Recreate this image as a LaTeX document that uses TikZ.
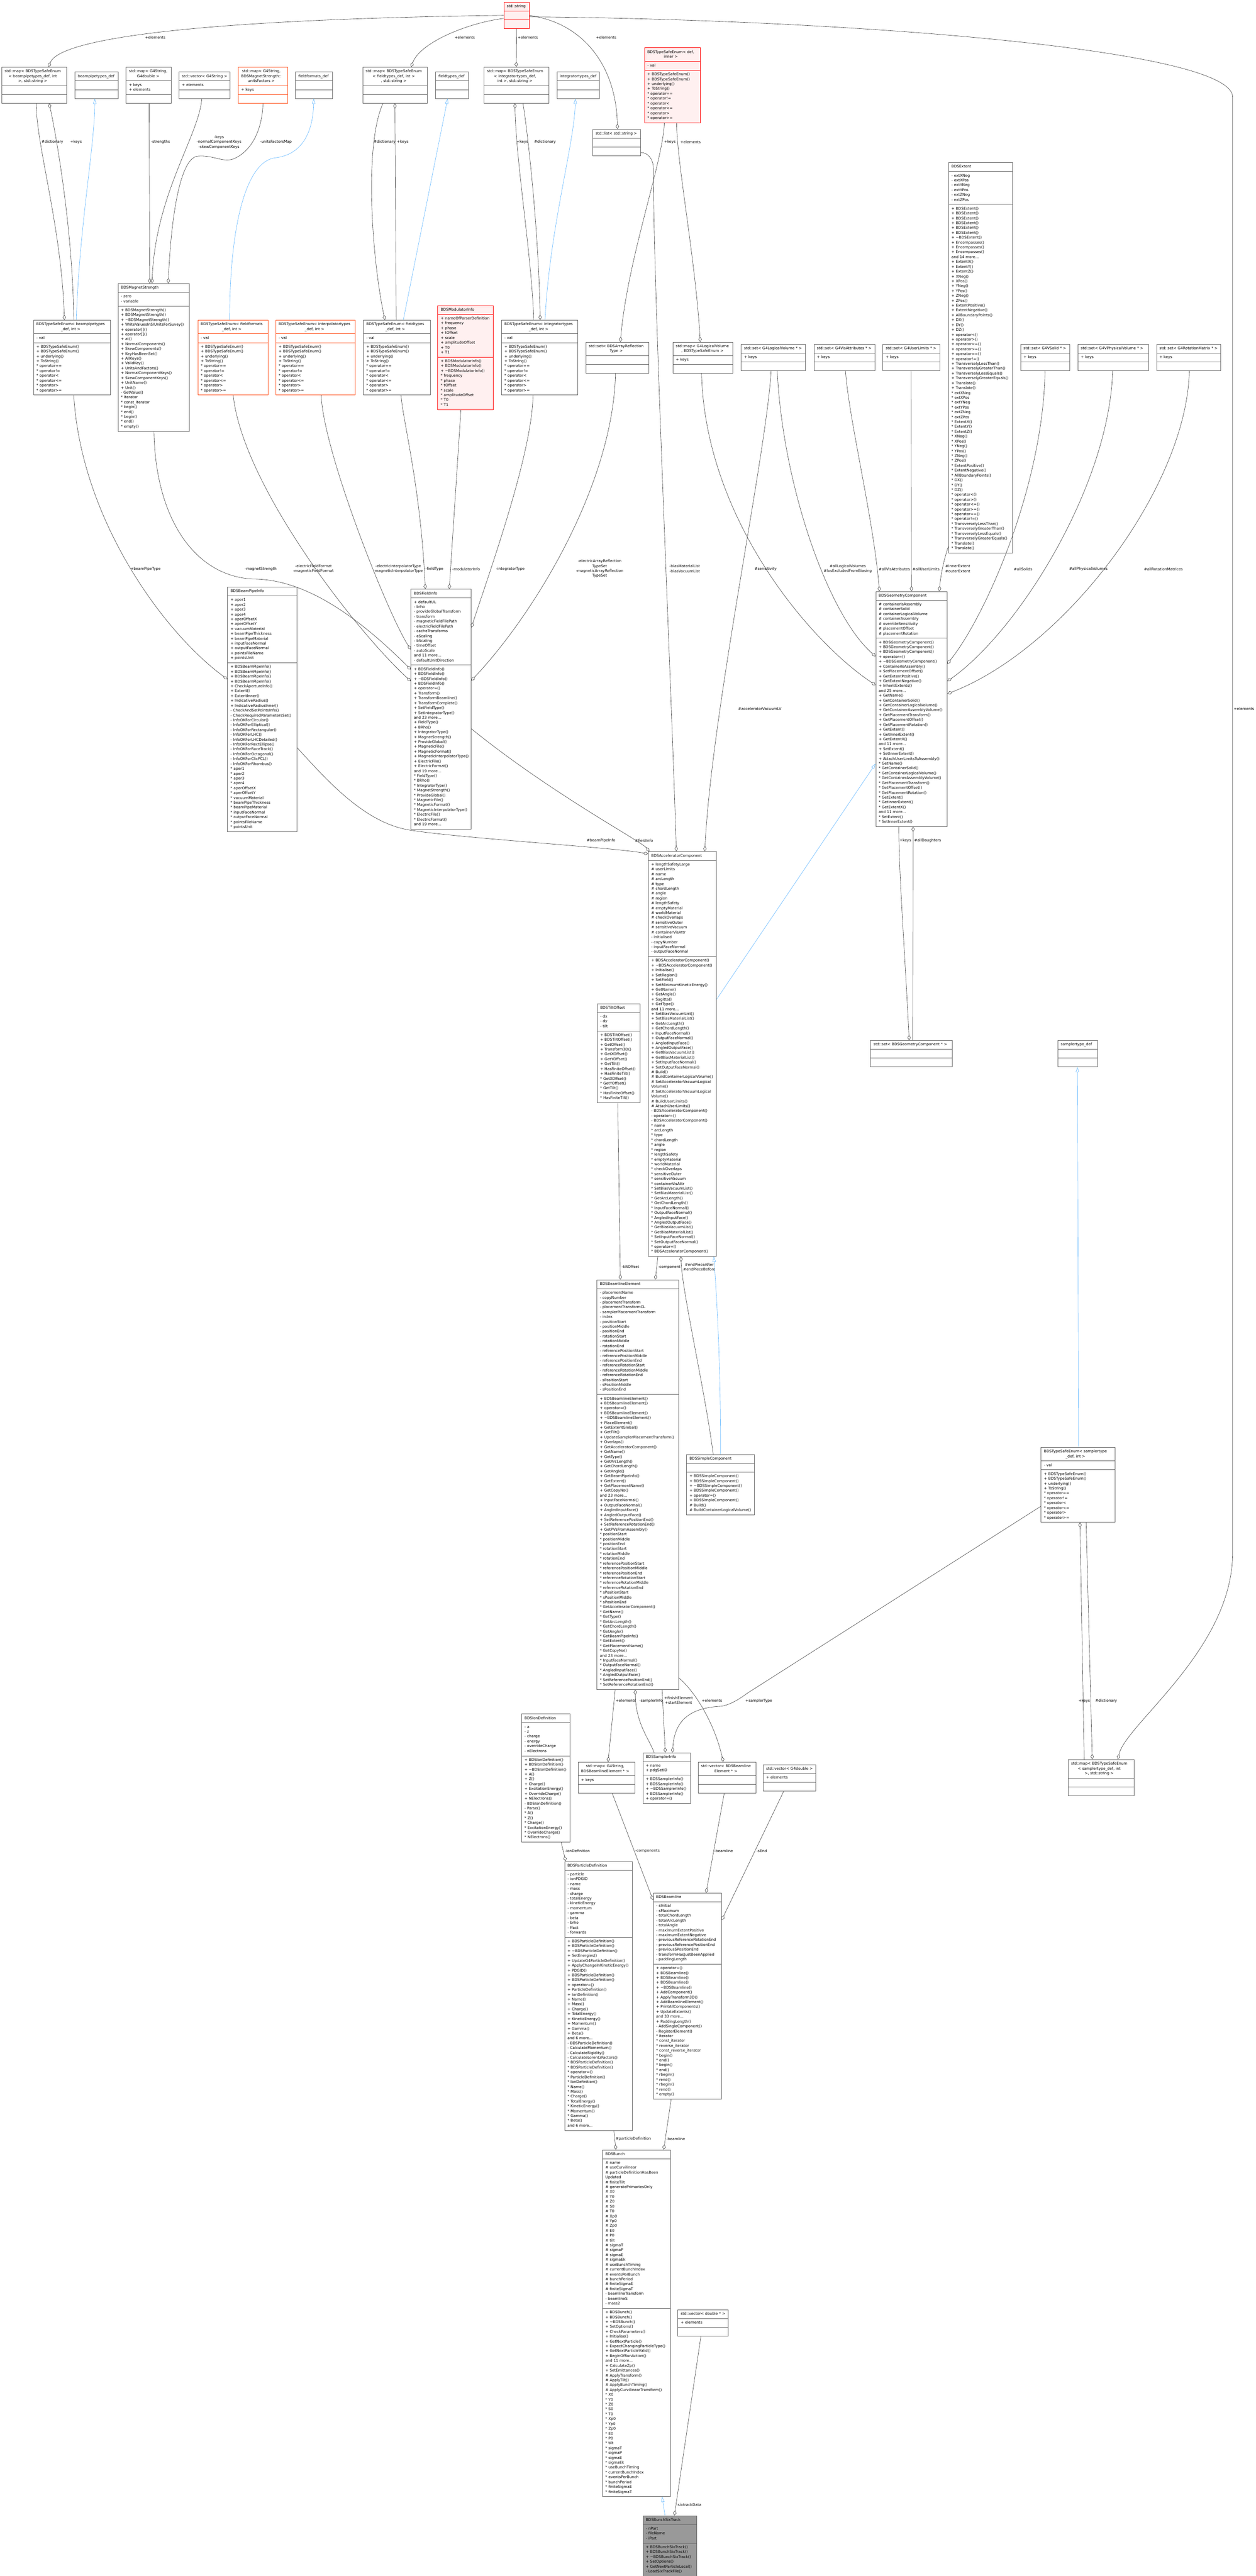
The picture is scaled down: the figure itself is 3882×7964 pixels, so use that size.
\documentclass[tikz,border=0pt]{standalone}
\usepackage{fontspec}
\setmainfont{DejaVu Sans}
\usetikzlibrary{%
  arrows.meta,% Diamond, Triangle
  shapes.multipart% rectangle split
}
\definecolor{boxgray}{HTML}{666666}
\definecolor{edgegray}{HTML}{404040}
\definecolor{inhblue}{HTML}{63B8FF}
\definecolor{pinkfill}{HTML}{FFF0F0}
\definecolor{boxorange}{HTML}{FF5522}
\definecolor{focusgray}{HTML}{999999}
\newcommand{\dxfont}{\fontsize{11.5}{15}\selectfont}
\newcommand{\clstitle}[1]{\centering\begin{tabular}{@{}c@{}}#1\end{tabular}}
\newcommand{\clsrows}[1]{\begin{tabular}{@{}l@{}}#1\end{tabular}}
\newcommand{\clsnone}{\clsrows{\mbox{}}}
\newcommand{\tld}{\textasciitilde}
\newcommand{\tsemeth}{+ BDSTypeSafeEnum()\\+ BDSTypeSafeEnum()\\+ underlying()\\+ ToString()\\{*} operator==\\{*} operator!=\\{*} operator<\\{*} operator<=\\{*} operator>\\{*} operator>=}

\begin{document}
\begin{tikzpicture}[x=1pt, y=-1pt,
  cls/.style={rectangle split, rectangle split parts=3, draw=boxgray, fill=white,
    line width=1.2pt, anchor=north west, inner xsep=9pt, inner ysep=5.5pt, font=\dxfont},
  trunc/.style={cls, draw=red, fill=pinkfill},
  partial/.style={cls, draw=boxorange},
  focus/.style={cls, fill=focusgray},
  agg/.style={draw=edgegray, line width=1pt, {Diamond[open, length=16pt, width=10pt]}-},
  inh/.style={draw=inhblue, line width=1pt, -{Triangle[open, length=16pt, width=10pt]}},
  lbl/.style={font=\dxfont, align=center, inner sep=0pt}]

\fill[white] (0,0) rectangle (3882,7964);
\useasboundingbox (0,0) rectangle (3882,7964);
\coordinate (rtop) at (3811,300);
\coordinate (rbot) at (3811,4800);

% top rows
\node[trunc, text width=61pt] (string) at (1557,6) {\clstitle{std::string}\nodepart{two}\clsnone\nodepart{three}\clsnone};

\node[cls, text width=183pt] (mapBPT) at (5,207) {\clstitle{std::map< BDSTypeSafeEnum\\< beampipetypes\_def, int\\ >, std::string >}\nodepart{two}\clsnone\nodepart{three}\clsnone};
\node[cls, text width=115pt] (bptdef) at (231,222) {\clstitle{beampipetypes\_def}\nodepart{two}\clsnone\nodepart{three}\clsnone};
\node[cls, text width=122pt] (mapG4D) at (389,207) {\clstitle{std::map< G4String,\\ G4double >}\nodepart{two}\clsrows{+ keys\\+ elements}\nodepart{three}\clsnone};
\node[cls, text width=140pt] (vecG4S) at (553,222) {\clstitle{std::vector< G4String >}\nodepart{two}\clsrows{+ elements}\nodepart{three}\clsnone};
\node[partial, text width=135pt] (mapUF) at (736,207) {\clstitle{std::map< G4String,\\ BDSMagnetStrength::\\unitsFactors >}\nodepart{two}\clsrows{+ keys}\nodepart{three}\clsnone};
\node[cls, text width=96pt] (ffdef) at (913,222) {\clstitle{fieldformats\_def}\nodepart{two}\clsnone\nodepart{three}\clsnone};
\node[cls, text width=181pt] (mapFT) at (1121,207) {\clstitle{std::map< BDSTypeSafeEnum\\< fieldtypes\_def, int >\\, std::string >}\nodepart{two}\clsnone\nodepart{three}\clsnone};
\node[cls, text width=84pt] (ftdef) at (1346,222) {\clstitle{fieldtypes\_def}\nodepart{two}\clsnone\nodepart{three}\clsnone};
\node[cls, text width=183pt] (mapIT) at (1496,207) {\clstitle{std::map< BDSTypeSafeEnum\\< integratortypes\_def,\\ int >, std::string >}\nodepart{two}\clsnone\nodepart{three}\clsnone};
\node[cls, text width=114pt] (itdef) at (1721,222) {\clstitle{integratortypes\_def}\nodepart{two}\clsnone\nodepart{three}\clsnone};
\node[cls, text width=130pt] (listStr) at (1832,399) {\clstitle{std::list< std::string >}\nodepart{two}\clsnone\nodepart{three}\clsnone};
\node[trunc, text width=154pt] (tseDef) at (1992,147) {\clstitle{BDSTypeSafeEnum< def,\\ inner >}\nodepart{two}\clsrows{- val}\nodepart{three}\clsrows{\tsemeth}};

\node[cls, text width=220pt] (tseBPT) at (103,989) {\clstitle{BDSTypeSafeEnum< beampipetypes\\\_def, int >}\nodepart{two}\clsrows{- val}\nodepart{three}\clsrows{\tsemeth}};
\node[cls, text width=203pt] (magStr) at (364,876) {\clstitle{BDSMagnetStrength}\nodepart{two}\clsrows{- zero\\- variable}\nodepart{three}\clsrows{+ BDSMagnetStrength()\\+ BDSMagnetStrength()\\+ \tld BDSMagnetStrength()\\+ WriteValuesInSIUnitsForSuvey()\\+ operator[]()\\+ operator[]()\\+ at()\\+ NormalComponents()\\+ SkewComponents()\\+ KeyHasBeenSet()\\+ AllKeys()\\+ ValidKey()\\+ UnitsAndFactors()\\+ NormalComponentKeys()\\+ SkewComponentKeys()\\+ UnitName()\\+ Unit()\\- GetValue()\\{*} iterator\\{*} const\_iterator\\{*} begin()\\{*} end()\\{*} begin()\\{*} end()\\{*} empty()}};
\node[partial, text width=199pt] (tseFF) at (611,989) {\clstitle{BDSTypeSafeEnum< fieldformats\\\_def, int >}\nodepart{two}\clsrows{- val}\nodepart{three}\clsrows{\tsemeth}};
\node[partial, text width=228pt] (tseIP) at (852,989) {\clstitle{BDSTypeSafeEnum< interpolatortypes\\\_def, int >}\nodepart{two}\clsrows{- val}\nodepart{three}\clsrows{\tsemeth}};
\node[cls, text width=189pt] (tseFT) at (1123,989) {\clstitle{BDSTypeSafeEnum< fieldtypes\\\_def, int >}\nodepart{two}\clsrows{- val}\nodepart{three}\clsrows{\tsemeth}};
\node[trunc, text width=154pt] (modInfo) at (1353,944) {\clstitle{BDSModulatorInfo}\nodepart{two}\clsrows{+ nameOfParserDefinition\\+ frequency\\+ phase\\+ tOffset\\+ scale\\+ amplitudeOffset\\+ T0\\+ T1}\nodepart{three}\clsrows{+ BDSModulatorInfo()\\+ BDSModulatorInfo()\\+ \tld BDSModulatorInfo()\\{*} frequency\\{*} phase\\{*} tOffset\\{*} scale\\{*} amplitudeOffset\\{*} T0\\{*} T1}};
\node[cls, text width=217pt] (tseIT) at (1550,989) {\clstitle{BDSTypeSafeEnum< integratortypes\\\_def, int >}\nodepart{two}\clsrows{- val}\nodepart{three}\clsrows{\tsemeth}};
\node[cls, text width=176pt] (setART) at (1811,1057) {\clstitle{std::set< BDSArrayReflection\\Type >}\nodepart{two}\clsnone\nodepart{three}\clsnone};
\node[cls, text width=167pt] (mapLV) at (2080,1057) {\clstitle{std::map< G4LogicalVolume\\ *, BDSTypeSafeEnum >}\nodepart{two}\clsrows{+ keys}\nodepart{three}\clsnone};
\node[cls, text width=181pt] (setLV) at (2291,1064) {\clstitle{std::set< G4LogicalVolume * >}\nodepart{two}\clsrows{+ keys}\nodepart{three}\clsnone};
\node[cls, text width=171pt] (setVA) at (2516,1064) {\clstitle{std::set< G4VisAttributes * >}\nodepart{two}\clsrows{+ keys}\nodepart{three}\clsnone};
\node[cls, text width=159pt] (setUL) at (2729,1064) {\clstitle{std::set< G4UserLimits * >}\nodepart{two}\clsrows{+ keys}\nodepart{three}\clsnone};
\node[cls, text width=180pt] (extent) at (2932,502) {\clstitle{BDSExtent}\nodepart{two}\clsrows{- extXNeg\\- extXPos\\- extYNeg\\- extYPos\\- extZNeg\\- extZPos}\nodepart{three}\clsrows{+ BDSExtent()\\+ BDSExtent()\\+ BDSExtent()\\+ BDSExtent()\\+ BDSExtent()\\+ BDSExtent()\\+ \tld BDSExtent()\\+ Encompasses()\\+ Encompasses()\\+ Encompasses()\\and 14 more...\\+ ExtentX()\\+ ExtentY()\\+ ExtentZ()\\+ XNeg()\\+ XPos()\\+ YNeg()\\+ YPos()\\+ ZNeg()\\+ ZPos()\\+ ExtentPositive()\\+ ExtentNegative()\\+ AllBoundaryPoints()\\+ DX()\\+ DY()\\+ DZ()\\+ operator<()\\+ operator>()\\+ operator<=()\\+ operator>=()\\+ operator==()\\+ operator!=()\\+ TransverselyLessThan()\\+ TransverselyGreaterThan()\\+ TransverselyLessEquals()\\+ TransverselyGreaterEquals()\\+ Translate()\\+ Translate()\\{*} extXNeg\\{*} extXPos\\{*} extYNeg\\{*} extYPos\\{*} extZNeg\\{*} extZPos\\{*} ExtentX()\\{*} ExtentY()\\{*} ExtentZ()\\{*} XNeg()\\{*} XPos()\\{*} YNeg()\\{*} YPos()\\{*} ZNeg()\\{*} ZPos()\\{*} ExtentPositive()\\{*} ExtentNegative()\\{*} AllBoundaryPoints()\\{*} DX()\\{*} DY()\\{*} DZ()\\{*} operator<()\\{*} operator>()\\{*} operator<=()\\{*} operator>=()\\{*} operator==()\\{*} operator!=()\\{*} TransverselyLessThan()\\{*} TransverselyGreaterThan()\\{*} TransverselyLessEquals()\\{*} TransverselyGreaterEquals()\\{*} Translate()\\{*} Translate()}};
\node[cls, text width=134pt] (setSolid) at (3155,1064) {\clstitle{std::set< G4VSolid * >}\nodepart{two}\clsrows{+ keys}\nodepart{three}\clsnone};
\node[cls, text width=200pt] (setPV) at (3332,1064) {\clstitle{std::set< G4VPhysicalVolume * >}\nodepart{two}\clsrows{+ keys}\nodepart{three}\clsnone};
\node[cls, text width=181pt] (setRM) at (3575,1064) {\clstitle{std::set< G4RotationMatrix * >}\nodepart{two}\clsrows{+ keys}\nodepart{three}\clsnone};

% info classes
\node[cls, text width=196pt] (bpInfo) at (703,1814) {\clstitle{BDSBeamPipeInfo}\nodepart{two}\clsrows{+ aper1\\+ aper2\\+ aper3\\+ aper4\\+ aperOffsetX\\+ aperOffsetY\\+ vacuumMaterial\\+ beamPipeThickness\\+ beamPipeMaterial\\+ inputFaceNormal\\+ outputFaceNormal\\+ pointsFileName\\+ pointsUnit}\nodepart{three}\clsrows{+ BDSBeamPipeInfo()\\+ BDSBeamPipeInfo()\\+ BDSBeamPipeInfo()\\+ BDSBeamPipeInfo()\\+ CheckApertureInfo()\\+ Extent()\\+ ExtentInner()\\+ IndicativeRadius()\\+ IndicativeRadiusInner()\\- CheckAndSetPointsInfo()\\- CheckRequiredParametersSet()\\- InfoOKForCircular()\\- InfoOKForElliptical()\\- InfoOKForRectangular()\\- InfoOKForLHC()\\- InfoOKForLHCDetailed()\\- InfoOKForRectEllipse()\\- InfoOKForRaceTrack()\\- InfoOKForOctagonal()\\- InfoOKForClicPCL()\\- InfoOKForRhombus()\\{*} aper1\\{*} aper2\\{*} aper3\\{*} aper4\\{*} aperOffsetX\\{*} aperOffsetY\\{*} vacuumMaterial\\{*} beamPipeThickness\\{*} beamPipeMaterial\\{*} inputFaceNormal\\{*} outputFaceNormal\\{*} pointsFileName\\{*} pointsUnit}};
\node[cls, text width=168pt] (fieldInfo) at (1270,1821) {\clstitle{BDSFieldInfo}\nodepart{two}\clsrows{+ defaultUL\\- brho\\- provideGlobalTransform\\- transform\\- magneticFieldFilePath\\- electricFieldFilePath\\- cacheTransforms\\- eScaling\\- bScaling\\- timeOffset\\- autoScale\\and 11 more...\\- defaultUnitDirection}\nodepart{three}\clsrows{+ BDSFieldInfo()\\+ BDSFieldInfo()\\+ \tld BDSFieldInfo()\\+ BDSFieldInfo()\\+ operator=()\\+ Transform()\\+ TransformBeamline()\\+ TransformComplete()\\+ SetFieldType()\\+ SetIntegratorType()\\and 23 more...\\+ FieldType()\\+ BRho()\\+ IntegratorType()\\+ MagnetStrength()\\+ ProvideGlobal()\\+ MagneticFile()\\+ MagneticFormat()\\+ MagneticInterpolatorType()\\+ ElectricFile()\\+ ElectricFormat()\\and 19 more...\\{*} FieldType()\\{*} BRho()\\{*} IntegratorType()\\{*} MagnetStrength()\\{*} ProvideGlobal()\\{*} MagneticFile()\\{*} MagneticFormat()\\{*} MagneticInterpolatorType()\\{*} ElectricFile()\\{*} ElectricFormat()\\and 19 more...}};
\node[cls, text width=203pt] (geomComp) at (2707,1828) {\clstitle{BDSGeometryComponent}\nodepart{two}\clsrows{\# containerIsAssembly\\\# containerSolid\\\# containerLogicalVolume\\\# containerAssembly\\\# overrideSensitivity\\\# placementOffset\\\# placementRotation}\nodepart{three}\clsrows{+ BDSGeometryComponent()\\+ BDSGeometryComponent()\\+ BDSGeometryComponent()\\+ operator=()\\+ \tld BDSGeometryComponent()\\+ ContainerIsAssembly()\\+ SetPlacementOffset()\\+ GetExtentPositive()\\+ GetExtentNegative()\\+ InheritExtents()\\and 25 more...\\+ GetName()\\+ GetContainerSolid()\\+ GetContainerLogicalVolume()\\+ GetContainerAssemblyVolume()\\+ GetPlacementTransform()\\+ GetPlacementOffset()\\+ GetPlacementRotation()\\+ GetExtent()\\+ GetInnerExtent()\\+ GetExtentX()\\and 11 more...\\+ SetExtent()\\+ SetInnerExtent()\\+ AttachUserLimitsToAssembly()\\{*} GetName()\\{*} GetContainerSolid()\\{*} GetContainerLogicalVolume()\\{*} GetContainerAssemblyVolume()\\{*} GetPlacementTransform()\\{*} GetPlacementOffset()\\{*} GetPlacementRotation()\\{*} GetExtent()\\{*} GetInnerExtent()\\{*} GetExtentX()\\and 11 more...\\{*} SetExtent()\\{*} SetInnerExtent()}};

% components
\node[cls, text width=192pt] (accComp) at (2004,2632) {\clstitle{BDSAcceleratorComponent}\nodepart{two}\clsrows{+ lengthSafetyLarge\\\# userLimits\\\# name\\\# arcLength\\\# type\\\# chordLength\\\# angle\\\# region\\\# lengthSafety\\\# emptyMaterial\\\# worldMaterial\\\# checkOverlaps\\\# sensitiveOuter\\\# sensitiveVacuum\\\# containerVisAttr\\- initialised\\- copyNumber\\- inputFaceNormal\\- outputFaceNormal}\nodepart{three}\clsrows{+ BDSAcceleratorComponent()\\+ \tld BDSAcceleratorComponent()\\+ Initialise()\\+ SetRegion()\\+ SetField()\\+ SetMinimumKineticEnergy()\\+ GetName()\\+ GetAngle()\\+ Sagitta()\\+ GetType()\\and 11 more...\\+ SetBiasVacuumList()\\+ SetBiasMaterialList()\\+ GetArcLength()\\+ GetChordLength()\\+ InputFaceNormal()\\+ OutputFaceNormal()\\+ AngledInputFace()\\+ AngledOutputFace()\\+ GetBiasVacuumList()\\+ GetBiasMaterialList()\\+ SetInputFaceNormal()\\+ SetOutputFaceNormal()\\\# Build()\\\# BuildContainerLogicalVolume()\\\# SetAcceleratorVacuumLogical\\Volume()\\\# SetAcceleratorVacuumLogical\\Volume()\\\# BuildUserLimits()\\\# AttachUserLimits()\\- BDSAcceleratorComponent()\\- operator=()\\- BDSAcceleratorComponent()\\{*} name\\{*} arcLength\\{*} type\\{*} chordLength\\{*} angle\\{*} region\\{*} lengthSafety\\{*} emptyMaterial\\{*} worldMaterial\\{*} checkOverlaps\\{*} sensitiveOuter\\{*} sensitiveVacuum\\{*} containerVisAttr\\{*} SetBiasVacuumList()\\{*} SetBiasMaterialList()\\{*} GetArcLength()\\{*} GetChordLength()\\{*} InputFaceNormal()\\{*} OutputFaceNormal()\\{*} AngledInputFace()\\{*} AngledOutputFace()\\{*} GetBiasVacuumList()\\{*} GetBiasMaterialList()\\{*} SetInputFaceNormal()\\{*} SetOutputFaceNormal()\\{*} operator=()\\{*} BDSAcceleratorComponent()}};
\node[cls, text width=115pt] (tiltOffset) at (1846,3102) {\clstitle{BDSTiltOffset}\nodepart{two}\clsrows{- dx\\- dy\\- tilt}\nodepart{three}\clsrows{+ BDSTiltOffset()\\+ BDSTiltOffset()\\+ GetOffset()\\+ Transform3D()\\+ GetXOffset()\\+ GetYOffset()\\+ GetTilt()\\+ HasFiniteOffset()\\+ HasFiniteTilt()\\{*} GetXOffset()\\{*} GetYOffset()\\{*} GetTilt()\\{*} HasFiniteOffset()\\{*} HasFiniteTilt()}};
\node[cls, text width=234pt] (setGC) at (2691,3216) {\clstitle{std::set< BDSGeometryComponent * >}\nodepart{two}\clsnone\nodepart{three}\clsnone};
\node[cls, text width=104pt] (stDef) at (3270,3216) {\clstitle{samplertype\_def}\nodepart{two}\clsnone\nodepart{three}\clsnone};

\node[cls, text width=234pt] (bleElem) at (1845,3956) {\clstitle{BDSBeamlineElement}\nodepart{two}\clsrows{- placementName\\- copyNumber\\- placementTransform\\- placementTransformCL\\- samplerPlacementTransform\\- index\\- positionStart\\- positionMiddle\\- positionEnd\\- rotationStart\\- rotationMiddle\\- rotationEnd\\- referencePositionStart\\- referencePositionMiddle\\- referencePositionEnd\\- referenceRotationStart\\- referenceRotationMiddle\\- referenceRotationEnd\\- sPositionStart\\- sPositionMiddle\\- sPositionEnd}\nodepart{three}\clsrows{+ BDSBeamlineElement()\\+ BDSBeamlineElement()\\+ operator=()\\+ BDSBeamlineElement()\\+ \tld BDSBeamlineElement()\\+ PlaceElement()\\+ GetExtentGlobal()\\+ GetTilt()\\+ UpdateSamplerPlacementTransform()\\+ Overlaps()\\+ GetAcceleratorComponent()\\+ GetName()\\+ GetType()\\+ GetArcLength()\\+ GetChordLength()\\+ GetAngle()\\+ GetBeamPipeInfo()\\+ GetExtent()\\+ GetPlacementName()\\+ GetCopyNo()\\and 23 more...\\+ InputFaceNormal()\\+ OutputFaceNormal()\\+ AngledInputFace()\\+ AngledOutputFace()\\+ SetReferencePositionEnd()\\+ SetReferenceRotationEnd()\\+ GetPVsFromAssembly()\\{*} positionStart\\{*} positionMiddle\\{*} positionEnd\\{*} rotationStart\\{*} rotationMiddle\\{*} rotationEnd\\{*} referencePositionStart\\{*} referencePositionMiddle\\{*} referencePositionEnd\\{*} referenceRotationStart\\{*} referenceRotationMiddle\\{*} referenceRotationEnd\\{*} sPositionStart\\{*} sPositionMiddle\\{*} sPositionEnd\\{*} GetAcceleratorComponent()\\{*} GetName()\\{*} GetType()\\{*} GetArcLength()\\{*} GetChordLength()\\{*} GetAngle()\\{*} GetBeamPipeInfo()\\{*} GetExtent()\\{*} GetPlacementName()\\{*} GetCopyNo()\\and 23 more...\\{*} InputFaceNormal()\\{*} OutputFaceNormal()\\{*} AngledInputFace()\\{*} AngledOutputFace()\\{*} SetReferencePositionEnd()\\{*} SetReferenceRotationEnd()}};
\node[cls, text width=192pt] (simpleComp) at (2122,4496) {\clstitle{BDSSimpleComponent}\nodepart{two}\clsnone\nodepart{three}\clsrows{+ BDSSimpleComponent()\\+ BDSSimpleComponent()\\+ \tld BDSSimpleComponent()\\+ BDSSimpleComponent()\\+ operator=()\\+ BDSSimpleComponent()\\\# Build()\\\# BuildContainerLogicalVolume()}};
\node[cls, text width=210pt] (tseST) at (3218,4474) {\clstitle{BDSTypeSafeEnum< samplertype\\\_def, int >}\nodepart{two}\clsrows{- val}\nodepart{three}\clsrows{\tsemeth}};
\node[cls, text width=185pt] (mapST) at (3302,5439) {\clstitle{std::map< BDSTypeSafeEnum\\< samplertype\_def, int\\ >, std::string >}\nodepart{two}\clsnone\nodepart{three}\clsnone};

% beamline and bunch
\node[cls, text width=132pt] (ionDef) at (1612,5298) {\clstitle{BDSIonDefinition}\nodepart{two}\clsrows{- a\\- z\\- charge\\- energy\\- overrideCharge\\- nElectrons}\nodepart{three}\clsrows{+ BDSIonDefinition()\\+ BDSIonDefinition()\\+ \tld BDSIonDefinition()\\+ A()\\+ Z()\\+ Charge()\\+ ExcitationEnergy()\\+ OverrideCharge()\\+ NElectrons()\\- BDSIonDefinition()\\- Parse()\\{*} A()\\{*} Z()\\{*} Charge()\\{*} ExcitationEnergy()\\{*} OverrideCharge()\\{*} NElectrons()}};
\node[cls, text width=158pt] (mapBLE) at (1787,5447) {\clstitle{std::map< G4String,\\ BDSBeamlineElement * >}\nodepart{two}\clsrows{+ keys}\nodepart{three}\clsnone};
\node[cls, text width=129pt] (sampInfo) at (1987,5418) {\clstitle{BDSSamplerInfo}\nodepart{two}\clsrows{+ name\\+ pdgSetID}\nodepart{three}\clsrows{+ BDSSamplerInfo()\\+ BDSSamplerInfo()\\+ \tld BDSSamplerInfo()\\+ BDSSamplerInfo()\\+ operator=()}};
\node[cls, text width=160pt] (vecBLE) at (2158,5447) {\clstitle{std::vector< BDSBeamline\\Element * >}\nodepart{two}\clsnone\nodepart{three}\clsnone};
\node[cls, text width=145pt] (vecG4D) at (2359,5455) {\clstitle{std::vector< G4double >}\nodepart{two}\clsrows{+ elements}\nodepart{three}\clsnone};
\node[cls, text width=192pt] (partDef) at (1745,5754) {\clstitle{BDSParticleDefinition}\nodepart{two}\clsrows{- particle\\- ionPDGID\\- name\\- mass\\- charge\\- totalEnergy\\- kineticEnergy\\- momentum\\- gamma\\- beta\\- brho\\- ffact\\- forwards}\nodepart{three}\clsrows{+ BDSParticleDefinition()\\+ BDSParticleDefinition()\\+ \tld BDSParticleDefinition()\\+ SetEnergies()\\+ UpdateG4ParticleDefinition()\\+ ApplyChangeInKineticEnergy()\\+ PDGID()\\+ BDSParticleDefinition()\\+ BDSParticleDefinition()\\+ operator=()\\+ ParticleDefinition()\\+ IonDefinition()\\+ Name()\\+ Mass()\\+ Charge()\\+ TotalEnergy()\\+ KineticEnergy()\\+ Momentum()\\+ Gamma()\\+ Beta()\\and 6 more...\\- BDSParticleDefinition()\\- CalculateMomentum()\\- CalculateRigidity()\\- CalculateLorentzFactors()\\{*} BDSParticleDefinition()\\{*} BDSParticleDefinition()\\{*} operator=()\\{*} ParticleDefinition()\\{*} IonDefinition()\\{*} Name()\\{*} Mass()\\{*} Charge()\\{*} TotalEnergy()\\{*} KineticEnergy()\\{*} Momentum()\\{*} Gamma()\\{*} Beta()\\and 6 more...}};
\node[cls, text width=193pt] (beamline) at (2019,5852) {\clstitle{BDSBeamline}\nodepart{two}\clsrows{- sInitial\\- sMaximum\\- totalChordLength\\- totalArcLength\\- totalAngle\\- maximumExtentPositive\\- maximumExtentNegative\\- previousReferenceRotationEnd\\- previousReferencePositionEnd\\- previousSPositionEnd\\- transformHasJustBeenApplied\\- paddingLength}\nodepart{three}\clsrows{+ operator=()\\+ BDSBeamline()\\+ BDSBeamline()\\+ BDSBeamline()\\+ \tld BDSBeamline()\\+ AddComponent()\\+ ApplyTransform3D()\\+ AddBeamlineElement()\\+ PrintAllComponents()\\+ UpdateExtents()\\and 33 more...\\+ PaddingLength()\\- AddSingleComponent()\\- RegisterElement()\\{*} iterator\\{*} const\_iterator\\{*} reverse\_iterator\\{*} const\_reverse\_iterator\\{*} begin()\\{*} end()\\{*} begin()\\{*} end()\\{*} rbegin()\\{*} rend()\\{*} rbegin()\\{*} rend()\\{*} empty()}};
\node[cls, text width=192pt] (bunch) at (1862,6646) {\clstitle{BDSBunch}\nodepart{two}\clsrows{\# name\\\# useCurvilinear\\\# particleDefinitionHasBeen\\Updated\\\# finiteTilt\\\# generatePrimariesOnly\\\# X0\\\# Y0\\\# Z0\\\# S0\\\# T0\\\# Xp0\\\# Yp0\\\# Zp0\\\# E0\\\# P0\\\# tilt\\\# sigmaT\\\# sigmaP\\\# sigmaE\\\# sigmaEk\\\# useBunchTiming\\\# currentBunchIndex\\\# eventsPerBunch\\\# bunchPeriod\\\# finiteSigmaE\\\# finiteSigmaT\\- beamlineTransform\\- beamlineS\\- mass2}\nodepart{three}\clsrows{+ BDSBunch()\\+ BDSBunch()\\+ \tld BDSBunch()\\+ SetOptions()\\+ CheckParameters()\\+ Initialise()\\+ GetNextParticle()\\+ ExpectChangingParticleType()\\+ GetNextParticleValid()\\+ BeginOfRunAction()\\and 11 more...\\+ CalculateZp()\\+ SetEmittances()\\\# ApplyTransform()\\\# ApplyTilt()\\\# ApplyBunchTiming()\\\# ApplyCurvilinearTransform()\\{*} X0\\{*} Y0\\{*} Z0\\{*} S0\\{*} T0\\{*} Xp0\\{*} Yp0\\{*} Zp0\\{*} E0\\{*} P0\\{*} tilt\\{*} sigmaT\\{*} sigmaP\\{*} sigmaE\\{*} sigmaEk\\{*} useBunchTiming\\{*} currentBunchIndex\\{*} eventsPerBunch\\{*} bunchPeriod\\{*} finiteSigmaE\\{*} finiteSigmaT}};
\node[cls, text width=137pt] (vecD) at (2095,7140) {\clstitle{std::vector< double * >}\nodepart{two}\clsrows{+ elements}\nodepart{three}\clsnone};
\node[focus, text width=148pt] (sixTrack) at (1987,7777) {\clstitle{BDSBunchSixTrack}\nodepart{two}\clsrows{- nPart\\- fileName\\- iPart}\nodepart{three}\clsrows{+ BDSBunchSixTrack()\\+ BDSBunchSixTrack()\\+ \tld BDSBunchSixTrack()\\+ SetOptions()\\+ GetNextParticleLocal()\\- LoadSixTrackFile()}};

% std::string members
\draw[agg] ([xshift=145pt]mapBPT.north west) .. controls (185,120) and (600,60) .. (string.west);
\draw[agg] ([xshift=150pt]mapFT.north west) .. controls (1300,130) and (1450,70) .. ([yshift=-51pt]string.north west);
\draw[agg] ([xshift=100pt]mapIT.north west) -- (string.south);
\draw[agg] ([xshift=77pt]listStr.north west) .. controls (1905,200) and (1800,70) .. ([yshift=-42pt]string.north east);
\draw[agg] ([xshift=-50pt]mapST.north east) .. controls (3480,5330) and (3811,5100) .. (rbot) -- (rtop) .. controls (3811,150) and (2600,60) .. ([yshift=-46pt]string.north east);
\node[lbl] (lel1) at (480,116) {+elements};
\node[lbl] (lel2) at (1437,116) {+elements};
\node[lbl] (lel3) at (1632,116) {+elements};
\node[lbl] (lel4) at (1874,116) {+elements};
\node[lbl] (lel5) at (3846,2191) {+elements};

% enums and maps
\draw[agg] ([xshift=96pt]tseBPT.north west) .. controls (190,700) and (112,450) .. ([xshift=107pt]mapBPT.south west);
\draw[agg] ([xshift=147pt]mapBPT.south west) .. controls (170,400) and (225,700) .. ([xshift=125pt]tseBPT.north west);
\draw[inh] ([xshift=133pt]tseBPT.north west) .. controls (245,700) and (293,450) .. ([xshift=62pt]bptdef.south west);
\node[lbl] (ldic1) at (162,439) {\#dictionary};
\node[lbl] (lkey1) at (235,439) {+keys};
\draw[agg] ([xshift=99pt]magStr.north west) -- ([xshift=72pt]mapG4D.south west);
\draw[agg] ([xshift=106pt]magStr.north west) .. controls (480,600) and (615,420) .. ([xshift=71pt]vecG4S.south west);
\draw[agg] ([xshift=156pt]magStr.north west) .. controls (530,650) and (560,490) .. (610,483) .. controls (660,478) and (690,505) .. (725,490) .. controls (790,460) and (812,380) .. ([xshift=77pt]mapUF.south west);
\node[lbl] (lstr) at (496,439) {-strengths};
\node[lbl] (lkeys) at (677,439) {-keys\\-normalComponentKeys\\-skewComponentKeys};
\node[lbl] (lunits) at (853,439) {-unitsFactorsMap};
\draw[inh] ([xshift=99pt]tseFF.north west) .. controls (710,700) and (760,500) .. (850,488) .. controls (940,478) and (968,400) .. ([xshift=57pt]ffdef.south west);
\draw[agg] ([xshift=67pt]tseFT.north west) .. controls (1150,800) and (1125,450) .. ([xshift=63pt]mapFT.south west);
\draw[agg] ([xshift=100pt]mapFT.south west) -- ([xshift=102pt]tseFT.north west);
\draw[inh] ([xshift=124pt]tseFT.north west) -- ([xshift=38pt]ftdef.south west);
\node[lbl] (ldic2) at (1189,439) {\#dictionary};
\node[lbl] (lkey2) at (1245,439) {+keys};
\draw[agg] ([xshift=96pt]mapIT.south west) .. controls (1595,500) and (1645,800) .. ([xshift=100pt]tseIT.north west);
\draw[agg] ([xshift=120pt]tseIT.north west) .. controls (1665,700) and (1630,400) .. ([xshift=121pt]mapIT.south west);
\draw[inh] ([xshift=135pt]tseIT.north west) .. controls (1700,700) and (1775,450) .. ([xshift=58pt]itdef.south west);
\node[lbl] (lkey3) at (1615,439) {+keys};
\node[lbl] (ldic3) at (1685,439) {\#dictionary};
\draw[agg] ([xshift=107pt]setART.north west) .. controls (1940,800) and (2050,500) .. ([xshift=62pt]tseDef.south west);
\draw[agg] ([xshift=85pt]mapLV.north west) .. controls (2150,800) and (2092,500) .. ([xshift=100pt]tseDef.south west);
\node[lbl] (lkey4) at (2071,439) {+keys};
\node[lbl] (lel6) at (2135,439) {+elements};

% members of BDSBeamPipeInfo and BDSFieldInfo
\draw[agg] ([yshift=-286pt]bpInfo.north west) .. controls (500,1950) and (250,1600) .. ([xshift=125pt]tseBPT.south west);
\node[lbl] (lbpt) at (450,1759) {+beamPipeType};
\draw[agg] ([yshift=-249pt]fieldInfo.north west) .. controls (1050,1850) and (900,1790) .. (780,1790) .. controls (600,1780) and (480,1600) .. ([xshift=112pt]magStr.south west);
\node[lbl] (lmag) at (806,1759) {-magnetStrength};
\draw[agg] ([yshift=-285pt]fieldInfo.north west) .. controls (1100,1950) and (750,1500) .. ([xshift=110pt]tseFF.south west);
\node[lbl] (lfmt) at (969,1758) {-electricFieldFormat\\-magneticFieldFormat};
\draw[agg] ([yshift=-187pt]fieldInfo.north west) .. controls (1200,1900) and (1000,1400) .. ([xshift=141pt]tseIP.south west);
\node[lbl] (lipt) at (1231,1758) {-electricInterpolatorType\\-magneticInterpolatorType};
\draw[agg] ([xshift=45pt]fieldInfo.north west) .. controls (1300,1500) and (1245,1300) .. ([xshift=117pt]tseFT.south west);
\node[lbl] (lftp) at (1343,1759) {-fieldType};
\draw[agg] ([xshift=119pt]fieldInfo.north west) -- ([xshift=72pt]modInfo.south west);
\node[lbl] (lmod) at (1441,1759) {-modulatorInfo};
\draw[agg] ([yshift=-119pt]fieldInfo.north east) .. controls (1520,1750) and (1645,1400) .. ([xshift=98pt]tseIT.south west);
\node[lbl] (lint) at (1578,1759) {-integratorType};
\draw[agg] ([yshift=-283pt]fieldInfo.north east) .. controls (1650,1900) and (1895,1500) .. ([xshift=92pt]setART.south west);
\node[lbl] (lart) at (1854,1758) {-electricArrayReflection\\TypeSet\\-magneticArrayReflection\\TypeSet};

% members of BDSGeometryComponent
\draw[agg] ([yshift=-290pt]geomComp.north west) .. controls (2500,1980) and (2180,1600) .. ([xshift=89pt]mapLV.south west);
\node[lbl] (lsens) at (2367,1759) {\#sensitivity};
\draw[agg] ([yshift=-201pt]geomComp.north west) .. controls (2560,1900) and (2420,1500) .. ([xshift=112pt]setLV.south west);
\node[lbl] (llv) at (2621,1758) {\#allLogicalVolumes\\\#lvsExcludedFromBiasing};
\draw[agg] ([xshift=12pt]geomComp.north west) .. controls (2700,1600) and (2625,1300) .. ([xshift=98pt]setVA.south west);
\node[lbl] (lvis) at (2765,1759) {\#allVisAttributes};
\draw[agg] ([xshift=111pt]geomComp.north west) -- ([xshift=88pt]setUL.south west);
\node[lbl] (lul) at (2863,1759) {\#allUserLimits};
\draw[agg] ([xshift=197pt]geomComp.north west) .. controls (2910,1760) and (2925,1710) .. ([yshift=20pt]extent.south west);
\node[lbl] (lext) at (2961,1758) {\#innerExtent\\\#outerExtent};
\draw[agg] ([yshift=-224pt]geomComp.north east) .. controls (3050,1900) and (3225,1500) .. ([xshift=76pt]setSolid.south west);
\node[lbl] (lsol) at (3163,1759) {\#allSolids};
\draw[agg] ([yshift=-278pt]geomComp.north east) .. controls (3150,1950) and (3430,1500) .. ([xshift=108pt]setPV.south west);
\node[lbl] (lpv) at (3365,1759) {\#allPhysicalVolumes};
\draw[agg] ([yshift=-317pt]geomComp.north east) .. controls (3300,2000) and (3670,1500) .. ([xshift=102pt]setRM.south west);
\node[lbl] (lrm) at (3597,1759) {\#allRotationMatrices};

% members of BDSAcceleratorComponent
\draw[agg] ([xshift=87pt]accComp.north west) .. controls (2075,2100) and (2020,900) .. (2020,520) .. controls (2020,490) and (2000,470) .. ([yshift=10pt]listStr.south east);
\node[lbl] (lbias) at (2117,1758) {-biasMaterialList\\-biasVacuumList};
\draw[agg] ([xshift=175pt]accComp.north west) .. controls (2200,2200) and (2370,1400) .. ([xshift=93pt]setLV.south west);
\node[lbl] (lvac) at (2349,2191) {\#acceleratorVacuumLV};
\draw[agg] ([yshift=-8pt]accComp.north west) .. controls (1900,2620) and (1400,2590) .. (1260,2565) .. controls (1120,2540) and (1000,2400) .. ([yshift=-497pt]bpInfo.north east);
\node[lbl] (lbpi) at (1858,2599) {\#beamPipeInfo};
\draw[agg] ([xshift=4pt]accComp.north west) .. controls (1980,2600) and (1700,2450) .. ([yshift=-432pt]fieldInfo.north east);
\node[lbl] (lfi) at (1991,2599) {\#fieldInfo};
\draw[inh] ([yshift=-458pt]accComp.north east) -- ([yshift=-533pt]geomComp.north west);
\draw[agg] ([xshift=120pt]setGC.north west) .. controls (2795,2900) and (2779,2700) .. ([xshift=72pt]geomComp.south west);
\draw[agg] ([xshift=116pt]geomComp.south west) -- ([xshift=131pt]setGC.north west);
\node[lbl] (lkey5) at (2799,2599) {+keys};
\node[lbl] (ldau) at (2868,2599) {\#allDaughters};
\draw[inh] ([xshift=117pt]tseST.north west) -- ([xshift=61pt]stDef.south west);

% BDSBeamlineElement
\draw[agg] ([xshift=73pt]bleElem.north west) -- ([xshift=64pt]tiltOffset.south west);
\node[lbl] (ltilt) at (1949,3917) {-tiltOffset};
\draw[agg] ([xshift=181pt]bleElem.north west) -- ([xshift=30pt]accComp.south west);
\node[lbl] (lcomp) at (2069,3917) {-component};
\draw[agg] ([xshift=101pt]accComp.south west) .. controls (2110,4000) and (2180,4300) .. ([xshift=83pt]simpleComp.north west);
\node[lbl] (lend) at (2162,3917) {\#endPieceAfter\\\#endPieceBefore};
\draw[inh] ([xshift=106pt]simpleComp.north west) .. controls (2228,4200) and (2215,4000) .. ([xshift=203pt]accComp.south west);

\draw[agg] ([xshift=93pt]mapBLE.north west) -- ([xshift=57pt]bleElem.south west);
\node[lbl] (lel7) at (1935,5258) {+elements};
\draw[agg] ([xshift=119pt]bleElem.south west) .. controls (1965,5330) and (2010,5380) .. ([xshift=35pt]sampInfo.north west);
\node[lbl] (lsinf) at (2013,5258) {-samplerInfo};
\draw[agg] ([xshift=70pt]sampInfo.north west) -- ([xshift=202pt]bleElem.south west);
\node[lbl] (lfin) at (2098,5257) {+finishElement\\+startElement};
\draw[agg] ([xshift=78pt]vecBLE.north west) .. controls (2210,5330) and (2150,5230) .. ([yshift=37pt]bleElem.south east);
\node[lbl] (lel8) at (2201,5258) {+elements};
\draw[agg] ([xshift=92pt]sampInfo.north west) .. controls (2085,5330) and (2120,5280) .. (2230,5275) .. controls (2260,5270) and (2290,5250) .. (2310,5235) -- ([yshift=50pt]tseST.south west);
\node[lbl] (lstype) at (2346,5258) {+samplerType};
\draw[agg] ([xshift=121pt]tseST.south west) -- ([xshift=50pt]mapST.north west);
\draw[agg] ([xshift=75pt]mapST.north west) -- ([xshift=140pt]tseST.south west);
\node[lbl] (lkey6) at (3352,5258) {+keys};
\node[lbl] (ldic4) at (3420,5258) {\#dictionary};

% BDSBeamline and BDSBunch
\draw[agg] ([yshift=-22pt]beamline.north west) -- ([xshift=106pt]mapBLE.south west);
\node[lbl] (lcomps) at (2002,5722) {-components};
\draw[agg] ([xshift=164pt]beamline.north west) -- ([xshift=81pt]vecBLE.south west);
\node[lbl] (lbl1) at (2237,5722) {-beamline};
\draw[agg] ([yshift=-84pt]beamline.north east) -- ([xshift=64pt]vecG4D.south west);
\node[lbl] (lsend) at (2355,5722) {-sEnd};
\draw[agg] ([xshift=4pt]partDef.north west) -- ([xshift=123pt]ionDef.south west);
\node[lbl] (lion) at (1785,5722) {-ionDefinition};
\draw[agg] ([xshift=42pt]bunch.north west) -- ([xshift=153pt]partDef.south west);
\node[lbl] (lpdef) at (1958,6613) {\#particleDefinition};
\draw[agg] ([xshift=190pt]bunch.north west) -- ([xshift=56pt]beamline.south west);
\node[lbl] (lbl2) at (2089,6613) {-beamline};
\draw[inh] ([xshift=69pt]sixTrack.north west) -- ([xshift=185pt]bunch.south west);
\draw[agg] ([xshift=98pt]sixTrack.north west) -- ([xshift=72pt]vecD.south west);
\node[lbl] (lsix) at (2130,7744) {-sixtrackData};
\end{tikzpicture}
\end{document}
